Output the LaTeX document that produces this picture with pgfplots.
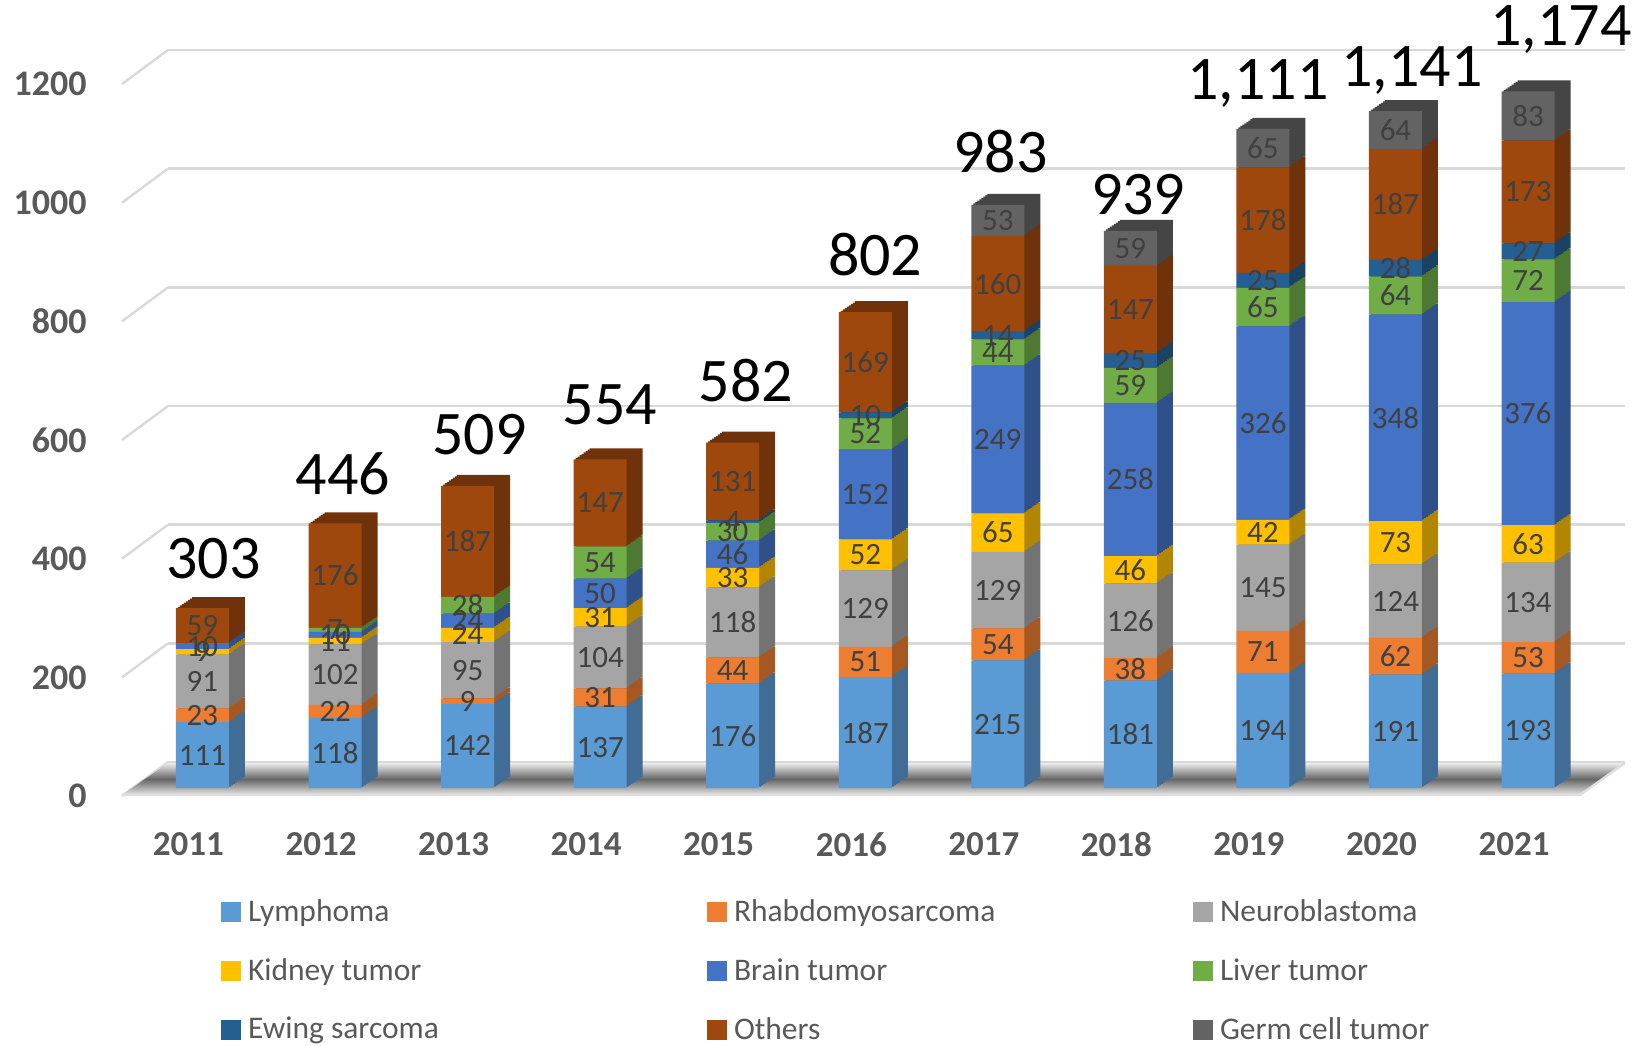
\documentclass[border=0pt]{standalone}
\usepackage{fontspec}
\setmainfont{Carlito}
\usepackage{pgfplots}
\usepackage{pgfplotstable}
\pgfplotsset{compat=1.18}

\definecolor{cLym}{HTML}{5B9BD5}
\definecolor{cRha}{HTML}{ED7D31}
\definecolor{cNeu}{HTML}{A5A5A5}
\definecolor{cKid}{HTML}{FFC000}
\definecolor{cBra}{HTML}{4472C4}
\definecolor{cLiv}{HTML}{70AD47}
\definecolor{cEwi}{HTML}{255E91}
\definecolor{cOth}{HTML}{9E480E}
\definecolor{cGer}{HTML}{636363}
\definecolor{labc}{HTML}{404040}
\definecolor{axt}{HTML}{595959}
\definecolor{grd}{HTML}{D9D9D9}

\pgfplotstableread{
x lym rha neu kid bra liv ewi oth ger gerlab tot totlab dx dy
0 111 23 91 9 10 0 0 59 0 {} 303 303 5.5 14.2
1 118 22 102 11 10 7 0 176 0 {} 446 446 3.9 14.2
2 142 9 95 24 24 28 0 187 0 {} 509 509 6.0 15.3
3 137 31 104 31 50 54 0 147 0 {} 554 554 5.0 16.8
4 176 44 118 33 46 30 4 131 0 {} 582 582 6.6 20.0
5 187 51 129 52 152 52 10 169 0 {} 802 802 5.0 17.9
6 215 54 129 65 249 44 14 160 53 53 983 983 1.3 15.8
7 181 38 126 46 258 59 25 147 59 59 939 939 3.9 7.8
8 194 71 145 42 326 65 25 178 65 65 1111 1,111 -2.4 10.5
9 191 62 124 73 348 64 28 187 64 64 1141 1,141 8.2 8.2
10 193 53 134 63 376 72 27 173 83 83 1174 1,174 16.5 18.8
}\data

\pgfplotsset{
  base0/.style={scale only axis, width=739pt, height=356pt,
    xmin=-0.607, xmax=10.543, ymin=0, ymax=1200,
    anchor=south west, clip=false},
  base/.style={base0, ybar stacked, bar width=26.5pt},
  seg/.style={draw=none, nodes near coords, point meta=explicit symbolic,
    every node near coord/.style={anchor=center, inner sep=0pt,
      font=\fontsize{15.5}{18}\selectfont, text=labc}},
}
\newcommand\leg[1]{\makebox[233pt][l]{\hspace{3.5pt}#1}}
\newcommand\depthplots[1]{%
  \addplot[fill=cLym!#1!black, draw=none] table[x=x,y=lym]{\data};
  \addplot[fill=cRha!#1!black, draw=none] table[x=x,y=rha]{\data};
  \addplot[fill=cNeu!#1!black, draw=none] table[x=x,y=neu]{\data};
  \addplot[fill=cKid!#1!black, draw=none] table[x=x,y=kid]{\data};
  \addplot[fill=cBra!#1!black, draw=none] table[x=x,y=bra]{\data};
  \addplot[fill=cLiv!#1!black, draw=none] table[x=x,y=liv]{\data};
  \addplot[fill=cEwi!#1!black, draw=none] table[x=x,y=ewi]{\data};
  \addplot[fill=cOth!#1!black, draw=none] table[x=x,y=oth]{\data};
  \addplot[fill=cGer!#1!black, draw=none] table[x=x,y=ger]{\data};
}

\begin{document}
\begin{tikzpicture}
% back wall with gridlines
\begin{axis}[scale only axis, at={(23pt,13pt)}, anchor=south west,
  width=728.5pt, height=356pt, xmin=0, xmax=1, ymin=0, ymax=1200,
  ytick={0,200,...,1200}, yticklabels={}, xtick=\empty,
  ymajorgrids, grid style={grd, line width=1.2pt},
  axis line style={draw=none}, major tick length=0, clip=false]
  \pgfplotsinvokeforeach{0,200,400,600,800,1000,1200}{
    \draw[grd, line width=1.2pt] (rel axis cs:0,#1/1200) -- ++(-23pt,-17pt);
  }
\end{axis}
% floor
\shade[top color=gray!15, bottom color=gray!20, middle color=black!60]
  (0pt,-3.5pt) -- (729pt,-3.5pt) -- (751.5pt,12.5pt) -- (23pt,12.5pt) -- cycle;
\draw[gray!25, line width=1.2pt] (0pt,-3.5pt) -- (729pt,-3.5pt) -- (751.5pt,12.5pt);
% depth copies of the bars
\foreach \k in {8,7,...,1}{
  \begin{axis}[base, at={(\k*1pt,\k*0.6875pt)}, hide axis]
    \depthplots{70}
  \end{axis}
}
% front faces
\begin{axis}[base, at={(0pt,0pt)},
  axis line style={draw=none}, major tick length=0,
  xtick={0,...,10},
  xticklabels={2011,2012,2013,2014,2015,2016,2017,2018,2019,2020,2021},
  ytick={0,200,...,1200},
  /pgf/number format/assume math mode=true,
  /pgf/number format/1000 sep={},
  xticklabel style={anchor=center, inner sep=0pt, yshift=-28.25pt, xshift=-7pt,
    font=\bfseries\fontsize{17.5}{20}\selectfont, text=axt},
  yticklabel style={anchor=east, inner sep=0pt, xshift=-17.5pt, yshift=-4pt,
    font=\bfseries\fontsize{18}{20}\selectfont, text=axt},
  legend columns=3, legend cell align=left,
  legend image code/.code={\fill[#1] (0pt,-5pt) rectangle (10pt,5pt);},
  legend style={draw=none, fill=none, inner sep=0pt, outer sep=0pt,
    at={(0,0)}, anchor=north west, xshift=49.5pt, yshift=-55.7pt,
    column sep=0pt, row sep=17pt, nodes={inner sep=0pt},
    font=\fontsize{15.75}{18}\selectfont, text=axt},
]
  \addplot[seg, fill=cLym] table[x=x,y=lym,meta=lym]{\data};
  \addlegendentry{\leg{Lymphoma}}
  \addplot[seg, fill=cRha] table[x=x,y=rha,meta=rha]{\data};
  \addlegendentry{\leg{Rhabdomyosarcoma}}
  \addplot[seg, fill=cNeu] table[x=x,y=neu,meta=neu]{\data};
  \addlegendentry{\leg{Neuroblastoma}}
  \addplot[seg, fill=cKid] table[x=x,y=kid,meta=kid]{\data};
  \addlegendentry{\leg{Kidney tumor}}
  \addplot[seg, fill=cBra] table[x=x,y=bra,meta=bra]{\data};
  \addlegendentry{\leg{Brain tumor}}
  \addplot[seg, fill=cLiv] table[x=x,y=liv,meta=liv]{\data};
  \addlegendentry{\leg{Liver tumor}}
  \addplot[seg, fill=cEwi] table[x=x,y=ewi,meta=ewi]{\data};
  \addlegendentry{\leg{Ewing sarcoma}}
  \addplot[seg, fill=cOth] table[x=x,y=oth,meta=oth]{\data};
  \addlegendentry{\leg{Others}}
  \addplot[seg, fill=cGer] table[x=x,y=ger,meta=gerlab]{\data};
  \addlegendentry{\leg{Germ cell tumor}}
\end{axis}
% totals
\begin{axis}[base0, at={(0pt,0pt)}, hide axis]
  \addplot[only marks, mark=none, draw=none, nodes near coords,
    point meta=explicit symbolic,
    visualization depends on={\thisrow{dx}\as\tdx},
    visualization depends on={\thisrow{dy}\as\tdy},
    every node near coord/.style={anchor=south, inner sep=0pt,
      font=\fontsize{31}{35}\selectfont, text=black,
      xshift={\tdx*1pt}, yshift={\tdy*1pt}}]
    table[x=x, y=tot, meta=totlab]{\data};
\end{axis}
\pgfresetboundingbox
\useasboundingbox (-61pt,-128.5pt) rectangle (763.5pt,394pt);
\end{tikzpicture}
\end{document}
